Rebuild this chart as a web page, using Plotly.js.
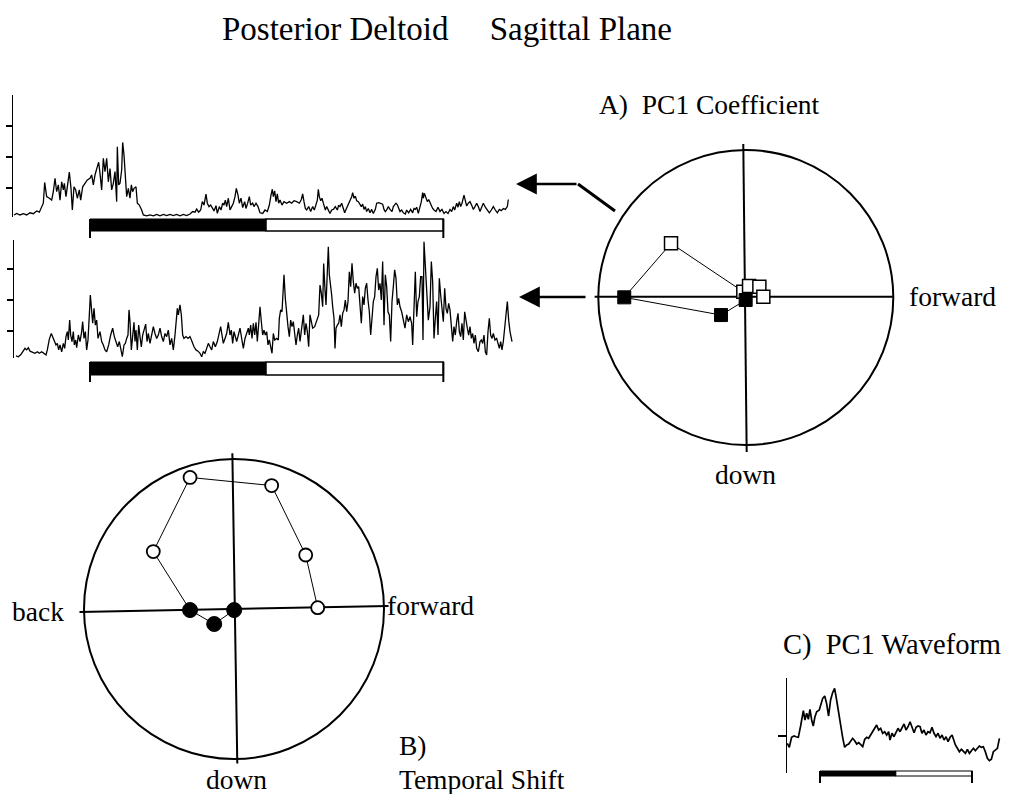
<!DOCTYPE html>
<html>
<head>
<meta charset="utf-8">
<script src="https://cdn.plot.ly/plotly-3.0.1.min.js"></script>
<style>html,body{margin:0;padding:0;background:#fff;}#chart{width:1013px;height:794px;}</style>
</head>
<body>
<div id="chart"></div>
<script>
// ---------- DATA ----------
// Timing bar: start of movement, switch point, end of movement (ms)
const phaseTimes = [240, 768, 1300];

// Raw EMG trace 1 (top): [time ms, amplitude a.u.]
const emgTrace1 = [[12,1.3],[20,1.8],[30,1.3],[40,1.7],[50,1.3],[60,2.0],[70,1.7],[80,2.6],[88,2.2],[95,4.0],[100,5.1],[104,11.8],[110,7.2],[118,6.7],[125,6.1],[130,8.8],[135,13.1],[140,8.8],[145,11.0],[150,6.1],[155,12.0],[160,9.4],[163,11.5],[168,7.2],[175,12.6],[178,15.1],[183,9.9],[187,2.9],[192,10.4],[197,9.4],[202,6.7],[208,9.4],[212,6.1],[218,10.4],[225,11.5],[232,12.6],[240,13.1],[245,14.2],[250,11.0],[255,14.2],[262,16.9],[266,18.3],[270,14.7],[275,9.4],[280,19.6],[285,15.3],[290,19.6],[295,12.0],[300,16.3],[305,9.4],[310,11.5],[315,15.3],[320,5.6],[322,23.3],[326,11.0],[330,11.5],[335,15.8],[338,24.7],[342,20.6],[346,13.7],[350,7.2],[355,9.9],[360,6.7],[364,11.0],[368,8.8],[372,9.9],[378,10.4],[382,5.1],[388,4.5],[395,2.9],[400,1.3],[410,1.0],[420,1.3],[430,1.0],[440,1.5],[450,1.0],[460,1.5],[470,1.1],[480,1.5],[490,1.1],[500,1.5],[510,1.0],[520,1.5],[530,1.1],[540,1.6],[548,2.4],[555,2.2],[560,3.2],[566,2.2],[572,2.9],[577,5.6],[582,4.5],[588,8.0],[592,5.1],[597,4.0],[602,4.5],[608,3.2],[612,2.6],[618,4.3],[622,1.8],[628,4.0],[633,2.9],[638,5.1],[642,4.5],[646,6.1],[650,4.0],[655,6.7],[660,2.9],[665,4.0],[670,5.1],[675,7.2],[679,9.9],[684,7.7],[688,5.1],[693,6.7],[698,3.7],[704,5.6],[708,3.4],[713,5.1],[718,7.2],[722,4.5],[728,5.1],[732,4.0],[738,5.1],[744,4.0],
[750,2.0],[758,1.8],[765,2.9],[772,2.4],[778,4.5],[783,7.7],[787,9.6],[790,7.2],[794,9.1],[798,5.6],[802,8.1],[806,5.1],[810,6.1],[816,4.5],[822,5.6],[830,5.1],[838,5.6],[845,5.1],[852,5.9],[860,5.6],[868,5.1],[874,6.3],[878,8.1],[882,5.6],[886,3.4],[890,2.9],[896,4.0],[902,2.4],[908,4.0],[913,2.9],[918,5.1],[922,6.1],[925,9.6],[928,7.2],[932,5.9],[936,6.7],[940,5.1],[946,2.9],[950,4.0],[955,3.1],[960,1.8],[965,2.9],[970,3.1],[976,4.0],[982,2.9],[986,4.5],[990,4.0],[995,5.1],[1000,3.4],[1004,2.0],[1008,3.1],[1012,4.0],[1016,5.1],[1020,5.6],[1025,7.2],[1028,8.5],[1032,6.7],[1036,7.4],[1040,5.9],[1045,5.6],[1050,4.5],[1054,4.0],[1058,4.8],[1062,3.1],[1066,4.0],[1070,2.4],[1075,3.4],[1080,2.0],[1085,3.1],[1090,1.8],[1096,3.1],[1100,5.1],[1106,5.3],[1112,5.1],[1118,4.8],[1122,3.1],[1126,2.4],[1130,2.9],[1135,4.0],[1140,3.1],[1146,2.4],[1150,4.0],[1154,4.5],[1158,5.1],[1162,4.6],[1166,3.4],[1170,2.4],[1175,2.9],[1180,2.0],[1186,1.6],[1190,2.9],[1196,2.0],[1202,3.1],[1208,2.0],[1212,3.4],[1216,3.1],[1220,3.8],[1225,1.8],[1230,4.0],[1234,5.6],[1238,8.5],[1240,6.7],[1243,8.3],[1246,7.2],[1249,6.1],[1252,5.6],[1256,6.3],[1260,5.1],[1264,4.5],[1268,3.4],[1272,2.9],[1278,2.4],[1284,3.8],[1290,2.4],[1296,3.1],[1302,1.8],[1308,2.4],[1314,1.8],[1320,3.1],[1325,2.4],[1330,4.0],[1334,2.9],[1340,5.1],[1344,3.8],[1348,5.6],[1352,4.0],[1356,5.1],[1362,7.7],[1366,5.9],[1370,4.2],[1375,5.1],[1380,5.6],[1386,4.2],[1390,3.1],[1395,4.0],[1400,5.1],[1405,4.0],[1410,2.4],[1415,3.8],[1420,5.1],[1426,3.8],[1432,2.9],[1438,2.0],[1444,2.9],[1450,4.0],[1456,2.9],[1462,2.0],[1468,3.1],[1474,2.7],[1480,3.4],[1486,3.1],[1492,4.0],[1495,6.3]];

// Raw EMG trace 2 (middle): [time ms, amplitude a.u.]
const emgTrace2 = [[18,2.0],[25,1.7],[32,2.3],[38,3.1],[45,4.4],[50,3.9],[55,4.6],[60,3.5],[68,3.1],[75,2.8],[82,3.3],[88,2.8],[95,3.3],[102,2.8],[108,2.3],[112,3.9],[118,7.4],[124,9.2],[128,8.2],[132,6.6],[138,5.5],[142,6.0],[146,3.9],[150,5.5],[155,3.3],[160,6.0],[164,4.4],[168,8.2],[172,9.8],[175,7.1],[179,13.5],[182,8.7],[186,6.6],[190,9.8],[193,5.5],[197,7.1],[200,4.6],[205,8.7],[210,6.6],[215,9.8],[218,13.0],[222,7.6],[226,9.8],[230,3.9],[234,7.1],[238,15.2],[241,21.6],[244,17.8],[248,12.5],[252,17.3],[256,11.9],[260,13.5],[264,7.6],[270,9.8],[275,6.6],[280,5.5],[285,3.9],[290,3.3],[296,5.5],[302,8.7],[308,10.9],[313,8.2],[318,6.6],[323,4.9],[328,6.6],[333,3.9],[337,1.7],[342,5.5],[346,6.0],[350,7.6],[354,8.7],[357,16.8],[360,13.0],[364,3.9],[368,8.7],[372,12.8],[375,6.6],[378,10.3],[382,3.9],[386,11.9],[390,8.2],[394,4.9],[398,8.7],[402,10.3],[407,12.2],[411,6.6],[415,9.2],[420,6.0],[425,8.7],[430,11.4],[435,9.2],[440,7.6],[445,8.7],[450,10.9],[455,8.2],[460,6.6],[465,9.2],[470,8.2],[475,10.3],[480,5.5],[485,7.6],[490,3.9],[495,8.7],[498,13.5],[502,17.3],[505,15.2],[510,18.4],[514,15.2],[518,8.7],[522,7.6],[528,8.2],[534,7.6],[540,8.2],[546,6.6],[552,4.9],[558,3.9],[564,3.5],[570,2.8],[575,1.7],[580,3.3],[585,2.8],[590,4.4],[595,6.0],[600,4.9],[605,3.9],[610,6.6],[616,4.9],[622,6.6],[628,9.2],[632,11.4],[636,8.7],[640,6.0],[645,7.6],[650,9.2],[655,12.8],[660,8.7],[664,10.3],[668,6.0],[672,9.8],[676,8.2],[680,6.6],[685,8.7],[690,10.9],[695,7.6],[700,4.4],[705,7.6],[710,9.2],[715,10.9],[718,8.7],[722,11.9],[726,7.6],[730,12.5],[734,8.7],[738,12.8],[742,6.6],[746,13.0],
[750,17.8],[754,13.0],[758,8.7],[762,10.3],[766,8.7],[770,9.8],[774,5.5],[778,7.1],[782,4.4],[786,2.8],[790,9.2],[794,7.1],[800,7.6],[805,7.1],[808,14.1],[812,16.8],[816,16.2],[820,24.3],[822,28.1],[826,20.5],[830,15.2],[834,11.4],[838,8.2],[842,13.5],[846,11.4],[850,13.0],[854,9.2],[858,5.5],[862,8.7],[866,10.9],[870,6.6],[876,10.9],[880,15.2],[884,8.7],[888,12.5],[892,9.8],[896,4.9],[900,15.2],[904,12.5],[908,10.9],[914,11.4],[920,13.0],[926,15.2],[930,24.8],[934,22.2],[938,17.8],[941,31.8],[945,23.2],[948,18.4],[952,29.1],[955,37.2],[958,28.1],[962,22.7],[965,21.6],[968,17.8],[972,14.1],[975,4.4],[978,10.9],[982,11.9],[986,12.5],[990,15.2],[994,11.4],[998,15.7],[1002,16.8],[1006,20.0],[1010,16.2],[1014,19.5],[1018,29.1],[1022,24.3],[1026,31.8],[1030,25.9],[1034,22.2],[1038,25.4],[1042,23.8],[1046,24.3],[1050,17.8],[1054,12.5],[1058,21.1],[1062,18.4],[1066,23.8],[1070,25.4],[1074,20.0],[1078,16.2],[1082,8.7],[1086,15.2],[1090,19.5],[1094,21.1],[1098,27.5],[1102,30.2],[1106,23.2],[1110,25.4],[1114,20.0],[1118,32.4],[1122,11.9],[1126,28.1],[1130,24.3],[1134,16.2],[1138,15.2],[1142,6.6],[1146,19.5],[1150,24.3],[1154,29.7],[1158,27.0],[1162,18.4],[1166,20.5],[1170,17.8],[1175,16.2],[1180,13.5],[1185,10.9],[1190,15.2],[1195,13.0],[1200,14.6],[1205,12.5],[1208,5.5],[1212,17.8],[1216,29.1],[1220,14.6],[1224,19.5],[1228,21.1],[1232,27.5],[1236,27.5],[1239,7.1],[1242,38.8],[1246,30.8],[1250,19.5],[1255,13.5],[1260,17.8],[1264,32.4],[1268,25.9],[1272,7.6],[1276,14.1],[1280,19.5],[1284,8.7],[1288,27.0],[1292,21.6],[1296,16.8],[1300,13.0],[1304,23.8],[1308,17.3],[1312,15.7],[1316,18.9],[1320,16.8],[1324,11.4],[1328,6.6],[1332,11.4],[1336,8.7],[1340,13.0],[1344,15.7],[1348,9.8],[1352,8.2],[1356,12.5],[1360,7.1],[1364,16.2],[1368,12.5],[1372,10.9],[1376,8.7],[1380,11.4],[1384,7.6],[1388,9.2],[1392,6.0],[1396,8.7],[1400,4.4],[1405,3.3],[1410,6.6],[1414,7.1],[1418,6.0],[1422,8.7],[1426,3.3],[1430,2.3],[1434,9.8],[1438,14.1],[1442,8.7],[1446,7.6],[1450,9.2],[1455,7.1],[1460,7.6],[1464,5.5],[1468,4.4],[1472,6.6],[1476,3.9],[1480,6.6],[1484,11.4],[1488,15.7],[1492,19.5],[1496,13.5],[1500,9.8],[1506,6.6]];

// PC1 waveform (C): [time ms, amplitude a.u.]
const pc1Waveform = [[12,-0.73],[26,-1.13],[42,-0.13],[59,0],[73,-0.07],[89,-0.13],[105,1.0],[124,2.53],[135,1.6],[147,2.27],[159,1.67],[170,2.67],[182,1.6],[193,1.0],[205,1.93],[217,2.43],[235,2.6],[245,3.1],[259,3.77],[273,4.0],[286,3.27],[300,2.0],[314,3.6],[328,4.33],[342,4.77],[356,3.6],[370,2.27],[384,0.93],[398,-0.13],[412,-1.13],[426,-0.9],[440,-0.8],[454,-0.57],[468,-0.23],[482,-0.47],[496,-0.8],[510,-0.67],[524,-0.9],[538,-1.07],[552,-0.33],[566,-0.13],[579,-0.23],[593,0.1],[607,0.43],[621,0.77],[635,1.1],[649,0.6],[663,0.77],[677,0.27],[691,0.43],[705,0.1],[719,0.43],[728,-0.4],[742,0.27],[756,-0.07],[770,0.43],[784,0.77],[798,0.43],[812,0.77],[826,1.2],[840,0.6],[854,0.93],[868,1.43],[882,0.93],[896,0.33],[910,0.87],[924,1.0],[938,0.93],[951,0.27],[965,0.6],[979,0.1],[993,0.43],[1007,0.33],[1021,0.87],[1035,0.27],[1049,-0.07],[1063,0.27],[1077,-0.23],[1091,0.1],[1105,-0.4],[1119,-0.07],[1133,-0.57],[1147,-0.13],[1161,0.1],[1170,-0.4],[1184,-0.9],[1198,-1.23],[1212,-1.57],[1226,-1.33],[1240,-1.57],[1254,-1.73],[1268,-1.33],[1282,-1.73],[1296,-1.47],[1310,-1.23],[1323,-1.47],[1337,-1.23],[1351,-1.0],[1365,-1.13],[1379,-1.07],[1393,-1.57],[1407,-2.23],[1421,-2.47],[1435,-2.33],[1449,-1.57],[1463,-1.4],[1477,-1.23],[1491,-0.23]];

// A) PC1 coefficient trajectory (forward, up), 8 time points
const coefForward = [-0.001, -0.168, -0.824, -0.507, -0.017, 0.022, 0.092, 0.119];
const coefUp      = [-0.017, -0.119, 0.001, 0.367, 0.039, 0.078, 0.073, 0.005];
// B) Temporal shift trajectory (forward, up), 8 time points
const shiftForward = [0.001, -0.132, -0.293, -0.538, -0.293, 0.251, 0.478, 0.558];
const shiftUp      = [-0.007, -0.100, -0.007, 0.383, 0.877, 0.823, 0.360, 0.009];
// first three time points are drawn filled, remaining open
const filledCount = 3;

const labels = {
  title: "Posterior Deltoid&nbsp;&nbsp;&nbsp;&nbsp;&nbsp;Sagittal Plane",
  a: "A) &nbsp;PC1 Coefficient", b: "B)", bSub: "Temporal Shift", c: "C) &nbsp;PC1 Waveform",
  forward: "forward", back: "back", down: "down"
};

// ---------- LAYOUT HELPERS ----------
const W = 1013, H = 794;
const PX = p => p / W;
const PY = p => 1 - p / H;
const FONT = "Liberation Serif, Times New Roman, serif";

const ts = d => d.map(p => p[0]);
const vs = d => d.map(p => p[1]);

const lineStyle = {color: '#000', width: 1.3};
const traces = [
  {x: ts(emgTrace1), y: vs(emgTrace1), xaxis: 'x', yaxis: 'y', mode: 'lines', line: lineStyle},
  {x: ts(emgTrace2), y: vs(emgTrace2), xaxis: 'x2', yaxis: 'y2', mode: 'lines', line: lineStyle},
  {x: ts(pc1Waveform), y: vs(pc1Waveform), xaxis: 'x5', yaxis: 'y5', mode: 'lines', line: {color: '#000', width: 1.7}},
  // A
  {x: coefForward, y: coefUp, xaxis: 'x3', yaxis: 'y3', mode: 'lines', line: {color: '#000', width: 1}},
  {x: coefForward.slice(filledCount), y: coefUp.slice(filledCount), xaxis: 'x3', yaxis: 'y3', mode: 'markers',
   marker: {symbol: 'square', size: 13, color: '#fff', line: {color: '#000', width: 1.5}}},
  {x: coefForward.slice(0, filledCount), y: coefUp.slice(0, filledCount), xaxis: 'x3', yaxis: 'y3', mode: 'markers',
   marker: {symbol: 'square', size: 13, color: '#000', line: {color: '#000', width: 1}}},
  // B
  {x: shiftForward, y: shiftUp, xaxis: 'x4', yaxis: 'y4', mode: 'lines', line: {color: '#000', width: 1}},
  {x: shiftForward.slice(filledCount), y: shiftUp.slice(filledCount), xaxis: 'x4', yaxis: 'y4', mode: 'markers',
   marker: {symbol: 'circle', size: 13, color: '#fff', line: {color: '#000', width: 1.8}}},
  {x: shiftForward.slice(0, filledCount), y: shiftUp.slice(0, filledCount), xaxis: 'x4', yaxis: 'y4', mode: 'markers',
   marker: {symbol: 'circle', size: 15, color: '#000', line: {color: '#000', width: 1}}}
];

const hidden = {visible: false, showgrid: false, zeroline: false, fixedrange: true};
const yWave = {showline: true, linecolor: '#000', linewidth: 1.5, ticks: 'outside', ticklen: 6, tickwidth: 1.5,
  tickcolor: '#000', showticklabels: false, showgrid: false, zeroline: false, fixedrange: true};

// circle subplot geometry (center px, radius px)
function circDom(cx, cy, r) {
  const e = 1.2 * r;
  return {x: [PX(cx - e), PX(cx + e)], y: [PY(cy + e), PY(cy - e)]};
}
const domA = circDom(745.8, 297.5, 147.5);
const domB = circDom(234, 609, 150);

const layout = {
  width: W, height: H, margin: {l: 0, r: 0, t: 0, b: 0},
  paper_bgcolor: '#fff', plot_bgcolor: 'rgba(0,0,0,0)', showlegend: false,
  font: {family: FONT, color: '#000'},
  title: {text: labels.title, x: PX(447), xanchor: 'center', y: PY(28), yanchor: 'middle',
          font: {family: FONT, size: 33, color: '#000'}},
  xaxis: Object.assign({}, hidden, {domain: [PX(13), PX(512)], range: [9, 1506]}),
  yaxis: Object.assign({}, yWave, {domain: [PY(217), PY(95)], range: [0.645, 40], tickvals: [10, 20, 30], anchor: 'x'}),
  xaxis2: Object.assign({}, hidden, {domain: [PX(14), PX(514)], range: [12, 1512], anchor: 'y2'}),
  yaxis2: Object.assign({}, yWave, {domain: [PY(358), PY(240)], range: [1.29, 39.35], tickvals: [10, 20, 30], anchor: 'x2'}),
  xaxis3: Object.assign({}, hidden, {domain: domA.x, range: [-1.2, 1.2], anchor: 'y3'}),
  yaxis3: Object.assign({}, hidden, {domain: domA.y, range: [-1.2, 1.2], anchor: 'x3'}),
  xaxis4: Object.assign({}, hidden, {domain: domB.x, range: [-1.2, 1.2], anchor: 'y4'}),
  yaxis4: Object.assign({}, hidden, {domain: domB.y, range: [-1.2, 1.2], anchor: 'x4'}),
  xaxis5: Object.assign({}, hidden, {domain: [PX(787), PX(1005)], range: [10, 1530], anchor: 'y5'}),
  yaxis5: Object.assign({}, yWave, {domain: [PY(773), PY(678)], range: [-3.7, 5.8], tickvals: [0], ticklen: 8, anchor: 'x5'}),
  shapes: [],
  annotations: []
};

// circles and crosses
function circleShapes(ax, ay, hx, vx) {
  return [
    {type: 'circle', xref: ax, yref: ay, x0: -1, y0: -1, x1: 1, y1: 1, line: {color: '#000', width: 2}, layer: 'below'},
    {type: 'line', xref: ax, yref: ay, x0: hx[0], y0: hx[1], x1: hx[2], y1: hx[3], line: {color: '#000', width: 2}, layer: 'below'},
    {type: 'line', xref: ax, yref: ay, x0: vx[0], y0: vx[1], x1: vx[2], y1: vx[3], line: {color: '#000', width: 2}, layer: 'below'}
  ];
}
layout.shapes.push(...circleShapes('x3', 'y3', [-1.025, 0.005, 0.998, 0.005], [-0.017, 1.04, 0.006, -1.047]));
layout.shapes.push(...circleShapes('x4', 'y4', [-1.03, -0.02, 1.03, 0.02], [-0.011, 1.038, 0.022, -1.03]));

// timing bars
function timingBar(xr, top, bot, tickBot, lw) {
  return [
    {type: 'rect', xref: xr, yref: 'paper', x0: phaseTimes[0], x1: phaseTimes[1], y0: PY(bot), y1: PY(top),
     fillcolor: '#000', line: {color: '#000', width: 1}},
    {type: 'rect', xref: xr, yref: 'paper', x0: phaseTimes[1], x1: phaseTimes[2], y0: PY(bot), y1: PY(top),
     fillcolor: '#fff', line: {color: '#000', width: lw}},
    {type: 'line', xref: xr, yref: 'paper', x0: phaseTimes[0], x1: phaseTimes[0], y0: PY(tickBot), y1: PY(top), line: {color: '#000', width: 2}},
    {type: 'line', xref: xr, yref: 'paper', x0: phaseTimes[2], x1: phaseTimes[2], y0: PY(tickBot), y1: PY(top), line: {color: '#000', width: 2}}
  ];
}
layout.shapes.push(...timingBar('x', 219, 231, 238, 1.5));
layout.shapes.push(...timingBar('x2', 362, 375, 382, 1.5));
layout.shapes.push(...timingBar('x5', 771, 776, 783, 1.2));

// bent arrow segment
layout.shapes.push({type: 'line', xref: 'paper', yref: 'paper', x0: PX(578), y0: PY(184), x1: PX(615), y1: PY(211), line: {color: '#000', width: 3}});

// arrows
const arrowBase = {xref: 'paper', yref: 'paper', text: '', showarrow: true, arrowhead: 2, arrowsize: 1.6, arrowwidth: 2.6, arrowcolor: '#000', axref: 'pixel', ayref: 'pixel'};
layout.annotations.push(Object.assign({}, arrowBase, {x: PX(516), y: PY(184), ax: 62, ay: 0}));
layout.annotations.push(Object.assign({}, arrowBase, {x: PX(519), y: PY(297), ax: 68, ay: 0}));

// text labels
function txt(t, x, y, xa, size) {
  return {xref: 'paper', yref: 'paper', x: PX(x), y: PY(y), xanchor: xa || 'left', yanchor: 'middle', text: t,
          showarrow: false, font: {family: FONT, size: size || 27.5, color: '#000'}};
}
layout.annotations.push(
  txt(labels.a, 597, 104),
  txt(labels.forward, 907, 296),
  txt(labels.down, 745, 474, 'center'),
  txt(labels.back, 10, 611),
  txt(labels.forward, 385, 605),
  txt(labels.down, 236, 779, 'center'),
  txt(labels.b, 397, 745),
  txt(labels.bSub, 397, 779),
  txt(labels.c, 781, 645, 'left', 28.5)
);

Plotly.newPlot('chart', traces, layout, {displayModeBar: false, staticPlot: true});
</script>
</body>
</html>
